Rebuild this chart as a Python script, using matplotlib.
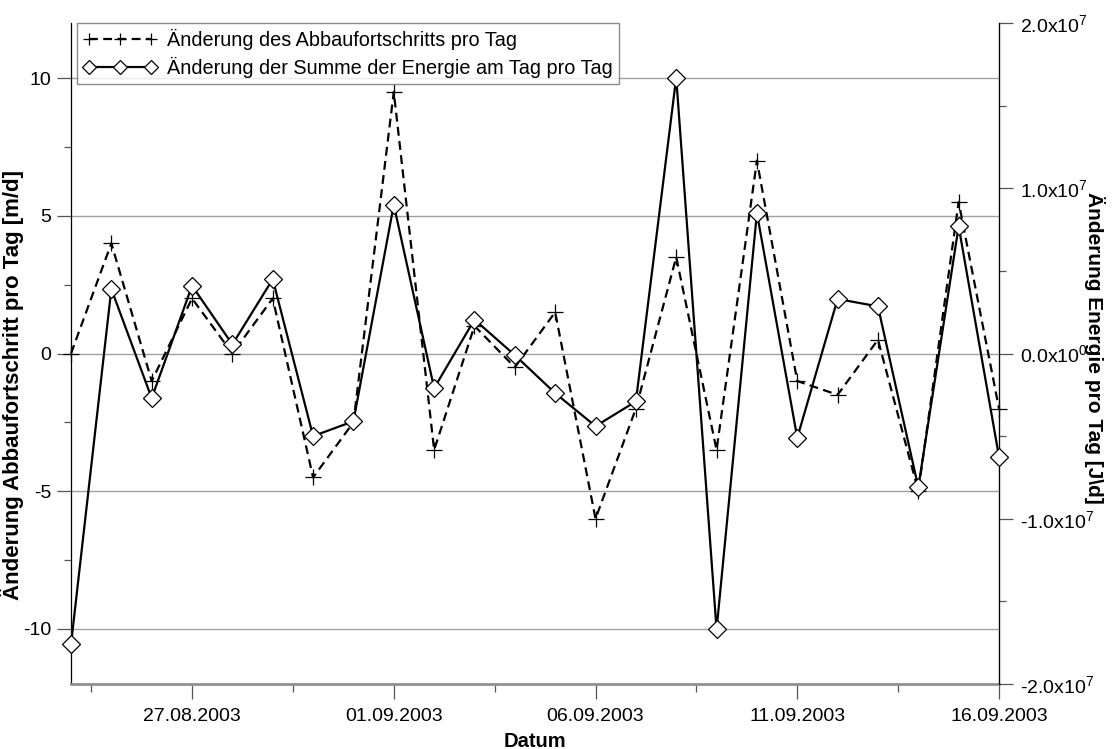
import matplotlib
matplotlib.use("Agg")
import matplotlib.pyplot as plt
import matplotlib.dates as mdates
import numpy as np
import datetime as dt
from matplotlib.ticker import FixedLocator, FuncFormatter

plt.rcParams['font.family'] = ['Liberation Sans', 'DejaVu Sans']
plt.rcParams['axes.unicode_minus'] = False

# ---- data ----
start_date = dt.datetime(2003, 8, 24)
dates = [start_date + dt.timedelta(days=i) for i in range(24)]

abbau = [0, 4, -1, 2, 0, 2, -4.5, -2.5, 9.5, -3.5, 1, -0.5, 1.5, -6, -2, 3.5,
         -3.5, 7, -1, -1.5, 0.5, -5, 5.5, -2]

energie = [-17.6e6, 3.9e6, -2.7e6, 4.1e6, 0.55e6, 4.5e6, -5.0e6, -4.1e6, 9.0e6,
           -2.1e6, 2.05e6, -0.1e6, -2.4e6, -4.4e6, -2.9e6, 16.7e6, -16.7e6, 8.5e6,
           -5.1e6, 3.3e6, 2.85e6, -8.1e6, 7.7e6, -6.25e6]

label_abbau = "Änderung des Abbaufortschritts pro Tag"
label_energie = "Änderung der Summe der Energie am Tag pro Tag"
xlabel = "Datum"
ylabel_left = "Änderung Abbaufortschritt pro Tag [m/d]"
ylabel_right = "Änderung Energie pro Tag [J\\d]"

major_dates = [dt.datetime(2003, 8, 27) + dt.timedelta(days=5 * i) for i in range(5)]
minor_dates = [dt.datetime(2003, 8, 24, 12) + dt.timedelta(days=5 * i) for i in range(5)]

# ---- figure ----
fig = plt.figure(figsize=(11.13, 7.49), dpi=100)
ax = fig.add_axes([71 / 1113, 1 - 684 / 749, (999 - 71) / 1113, (684 - 23) / 749])
ax2 = ax.twinx()

grid_col = '#a0a0a0'
ax.set_ylim(-12, 12)
ax2.set_ylim(-2e7, 2e7)
ax.set_xlim(dates[0], dates[-1])

ax.yaxis.set_major_locator(FixedLocator([-10, -5, 0, 5, 10]))
ax.yaxis.set_minor_locator(FixedLocator([-7.5, -2.5, 2.5, 7.5]))
ax.yaxis.set_major_formatter(FuncFormatter(lambda v, p: '%d' % v))
ax.grid(axis='y', which='major', color=grid_col, lw=1.0)
ax.set_axisbelow(True)

ax2.yaxis.set_major_locator(FixedLocator([-2e7, -1e7, 0, 1e7, 2e7]))
ax2.yaxis.set_minor_locator(FixedLocator([-1.5e7, -5e6, 5e6, 1.5e7]))


def sci(v, pos):
    if v == 0:
        return r'$\mathregular{0.0x10^{0}}$'
    e = int(np.floor(np.log10(abs(v))))
    m = abs(v) / 10 ** e
    sign = '-' if v < 0 else ''
    return sign + r'$\mathregular{%.1fx10^{%d}}$' % (m, e)


ax2.yaxis.set_major_formatter(FuncFormatter(sci))

ax.xaxis.set_major_locator(FixedLocator(mdates.date2num(major_dates)))
ax.xaxis.set_minor_locator(FixedLocator(mdates.date2num(minor_dates)))
ax.xaxis.set_major_formatter(mdates.DateFormatter('%d.%m.%Y'))

l1, = ax.plot(dates, abbau, color='black', lw=1.6, ls=(0, (4, 2.4)),
              marker='+', markersize=11, markeredgewidth=0.9, zorder=3,
              clip_on=False)
l2, = ax2.plot(dates, energie, color='black', lw=1.6, ls='-',
               marker='D', markersize=9, markerfacecolor='white',
               markeredgecolor='black', markeredgewidth=0.9, zorder=3,
               clip_on=False)

# spines & ticks
for a in (ax, ax2):
    a.spines['top'].set_visible(False)
ax.spines['bottom'].set_color('#909090')
ax.spines['bottom'].set_linewidth(2.0)
ax.spines['left'].set_color('black')
ax.spines['left'].set_linewidth(0.9)
ax2.spines['right'].set_color('black')
ax2.spines['right'].set_linewidth(0.9)
ax2.spines['left'].set_visible(False)
ax2.spines['bottom'].set_visible(False)

ax.tick_params(axis='y', which='major', length=10, width=0.9, color='#555555',
               labelsize=14, pad=4)
ax.tick_params(axis='y', which='minor', length=5, width=0.9, color='#555555')
ax.tick_params(axis='x', which='major', length=11, width=0.9, color='#555555',
               labelsize=14, pad=6)
ax.tick_params(axis='x', which='minor', length=6, width=0.9, color='#555555')
ax2.tick_params(axis='y', which='major', length=10, width=0.9, color='#555555',
                labelsize=14, pad=5)
ax2.tick_params(axis='y', which='minor', length=5, width=0.9, color='#555555')

ax.set_xlabel(xlabel, fontsize=14.5, fontweight='bold', labelpad=5)
ax.set_ylabel(ylabel_left, fontsize=16, fontweight='bold')
ax.yaxis.set_label_coords(-0.051, 0.452)
ax2.set_ylabel(ylabel_right, fontsize=15, fontweight='bold', rotation=270,
               va='center', ha='center')
ax2.yaxis.set_label_coords(1.1034, 0.508)

leg = ax.legend([l1, l2], [label_abbau, label_energie], loc='upper left',
                bbox_to_anchor=(0.007, 1.0), numpoints=3, handlelength=3.7,
                fontsize=14.3, frameon=True, fancybox=False, borderpad=0.3,
                labelspacing=0.35, handletextpad=0.5, borderaxespad=0.0,
                markerscale=0.8)
leg.get_frame().set_edgecolor('#707070')
leg.get_frame().set_linewidth(1.0)
leg.set_zorder(5)

fig.savefig('out.png', dpi=100)
